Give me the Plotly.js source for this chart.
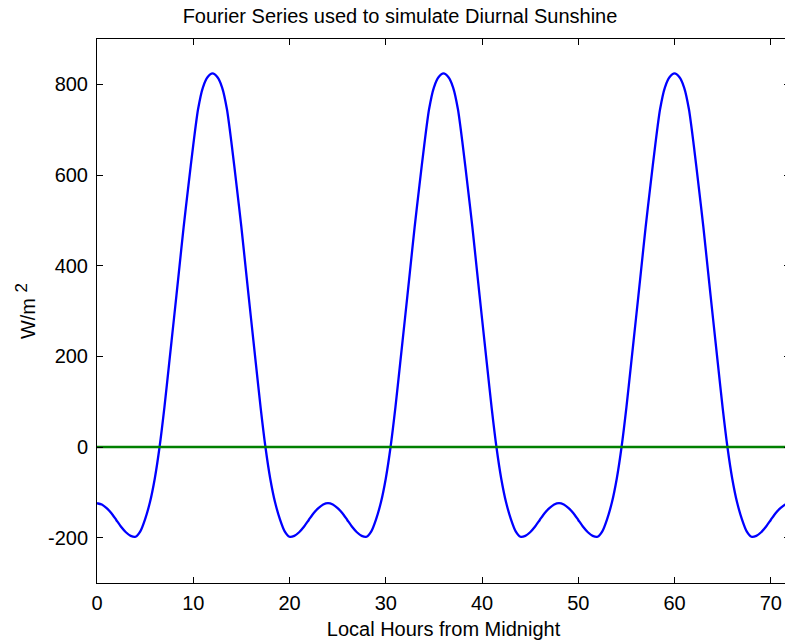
<!DOCTYPE html>
<html>
<head>
<meta charset="utf-8">
<script src="https://cdn.plot.ly/plotly-3.0.1.min.js"></script>
<style>
html,body{margin:0;padding:0;overflow:hidden;background:#fff;}
#chart{width:790px;height:643px;}
</style>
</head>
<body>
<div id="chart"></div>
<script>
// Sample hours: every half hour from 0 to 72
var hours = [];
for (var i = 0; i <= 144; i++) { hours.push(i * 0.5); }

// Simulated sunshine (W/m^2), half-hour samples
var sunshine = [
 -124,-127,-135,-146,-161,-176,-188,-196,-198,-186,-159,-122,-70,0,87,185,284,384,485,577,666,745,793,816,
 824,816,793,745,666,577,485,384,284,185,87,0,-70,-122,-159,-186,-198,-196,-188,-176,-161,-146,-135,-127,
 -124,-127,-135,-146,-161,-176,-188,-196,-198,-186,-159,-122,-70,0,87,185,284,384,485,577,666,745,793,816,
 824,816,793,745,666,577,485,384,284,185,87,0,-70,-122,-159,-186,-198,-196,-188,-176,-161,-146,-135,-127,
 -124,-127,-135,-146,-161,-176,-188,-196,-198,-186,-159,-122,-70,0,87,185,284,384,485,577,666,745,793,816,
 824,816,793,745,666,577,485,384,284,185,87,0,-70,-122,-159,-186,-198,-196,-188,-176,-161,-146,-135,-127,
 -124
];

// Zero reference line
var zeroX = [0, 72];
var zeroY = [0, 0];

var xTicks = [0, 10, 20, 30, 40, 50, 60, 70];
var yTicks = [-200, 0, 200, 400, 600, 800];

var font = {family: 'Arial, "Liberation Sans", sans-serif', size: 20, color: '#000'};

var traces = [
  {x: hours, y: sunshine, type: 'scatter', mode: 'lines',
   line: {color: '#0000ff', width: 2.3, shape: 'spline', smoothing: 0.7}, hoverinfo: 'skip'},
  {x: zeroX, y: zeroY, type: 'scatter', mode: 'lines',
   line: {color: '#008000', width: 2.5}, hoverinfo: 'skip'}
];

var layout = {
  width: 790, height: 643,
  margin: {l: 97, r: 0, t: 39, b: 60},
  paper_bgcolor: '#fff', plot_bgcolor: '#fff',
  showlegend: false,
  font: font,
  title: {text: 'Fourier Series used to simulate Diurnal Sunshine', font: font,
          x: 400/790, xref: 'container', xanchor: 'center', y: 1 - 16/643, yref: 'container', yanchor: 'middle'},
  xaxis: {
    range: [0, 72], tickvals: xTicks, ticktext: xTicks.map(String),
    ticks: 'inside', ticklen: 6, tickcolor: '#000', tickwidth: 1,
    showline: true, linecolor: '#000', linewidth: 1, mirror: 'ticks',
    showgrid: false, zeroline: false, tickfont: font, ticklabelstandoff: 2,
    title: {text: 'Local Hours from Midnight', font: font, standoff: 8}
  },
  yaxis: {
    range: [-300, 900], tickvals: yTicks, ticktext: yTicks.map(String),
    ticks: 'inside', ticklen: 6, tickcolor: '#000', tickwidth: 1,
    showline: true, linecolor: '#000', linewidth: 1, mirror: 'ticks',
    showgrid: false, zeroline: false, tickfont: font, ticklabelstandoff: 4,
    title: {text: 'W/m <sup><span style="font-size:17px">2</span></sup>', font: font, standoff: 6}
  }
};

Plotly.newPlot('chart', traces, layout, {displayModeBar: false, staticPlot: true});
</script>
</body>
</html>
